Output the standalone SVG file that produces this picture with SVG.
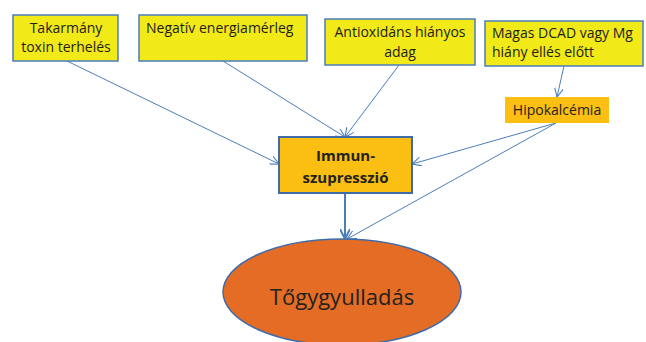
<svg xmlns="http://www.w3.org/2000/svg" width="646" height="342" viewBox="0 0 646 342">
<style>
.box{fill:#F2E918;stroke:#4A7EBB;stroke-width:1.5}
.t{font-family:"Open Sans","Noto Sans",sans-serif;font-size:14px;fill:#222}
.c{stroke:#4A7EBB;stroke-width:1;fill:none}
</style>
<defs>
<marker id="a" viewBox="0 0 10 10" refX="10" refY="5" markerWidth="9" markerHeight="9" markerUnits="userSpaceOnUse" orient="auto"><path d="M0,0 L10,5 L0,10" fill="none" stroke="#4A7EBB" stroke-width="1.2"/></marker>
<marker id="b" viewBox="0 0 10 10" refX="10" refY="5" markerWidth="10" markerHeight="10" markerUnits="userSpaceOnUse" orient="auto"><path d="M0,0 L10,5 L0,10" fill="none" stroke="#4A7EBB" stroke-width="2"/></marker>
</defs>
<rect width="646" height="342" fill="#fff"/>
<g id="connectors">
<line class="c" x1="67" y1="61" x2="279" y2="164" marker-end="url(#a)"/>
<line class="c" x1="223" y1="61" x2="345" y2="137" marker-end="url(#a)"/>
<line class="c" x1="399" y1="65" x2="345" y2="137" marker-end="url(#a)"/>
<line class="c" x1="564" y1="66" x2="557" y2="97" marker-end="url(#a)"/>
<line class="c" x1="556" y1="123" x2="412" y2="164" marker-end="url(#a)"/>
<line class="c" x1="556" y1="123" x2="347" y2="239" marker-end="url(#a)"/>
<line class="c" x1="345" y1="193" x2="345" y2="239" style="stroke-width:2" marker-end="url(#b)"/>
</g>
<g id="n1"><rect class="box" x="13" y="15" width="105" height="46"/>
<text class="t" x="66" y="33" text-anchor="middle">Takarmány</text>
<text class="t" x="66" y="52" text-anchor="middle">toxin terhelés</text></g>
<g id="n2"><rect class="box" x="139" y="15" width="168" height="46"/>
<text class="t" x="146" y="33">Negatív energiamérleg</text></g>
<g id="n3"><rect class="box" x="325" y="19" width="150" height="46"/>
<text class="t" x="400" y="37" text-anchor="middle">Antioxidáns hiányos</text>
<text class="t" x="400" y="57" text-anchor="middle">adag</text></g>
<g id="n4"><rect class="box" x="485" y="21" width="158" height="45"/>
<text class="t" x="492" y="38">Magas DCAD vagy Mg</text>
<text class="t" x="492" y="57">hiány ellés előtt</text></g>
<g id="n5"><rect x="505" y="97" width="104" height="26" fill="#FBBE12"/>
<text class="t" x="557" y="115" text-anchor="middle">Hipokalcémia</text></g>
<g id="n6"><rect x="279" y="137" width="133" height="56" fill="#FBBE12" stroke="#3F6CA8" stroke-width="2"/>
<text class="t" x="345.5" y="161" text-anchor="middle" style="font-weight:bold;font-size:15px">Immun-</text>
<text class="t" x="345.5" y="183" text-anchor="middle" style="font-weight:bold;font-size:15px">szupresszió</text></g>
<g id="n7"><ellipse cx="342" cy="292" rx="119" ry="53" fill="#E46C24" stroke="#3F6CA8" stroke-width="1.5"/>
<text class="t" x="342" y="305" text-anchor="middle" style="font-size:22px">Tőgygyulladás</text></g>
</svg>
